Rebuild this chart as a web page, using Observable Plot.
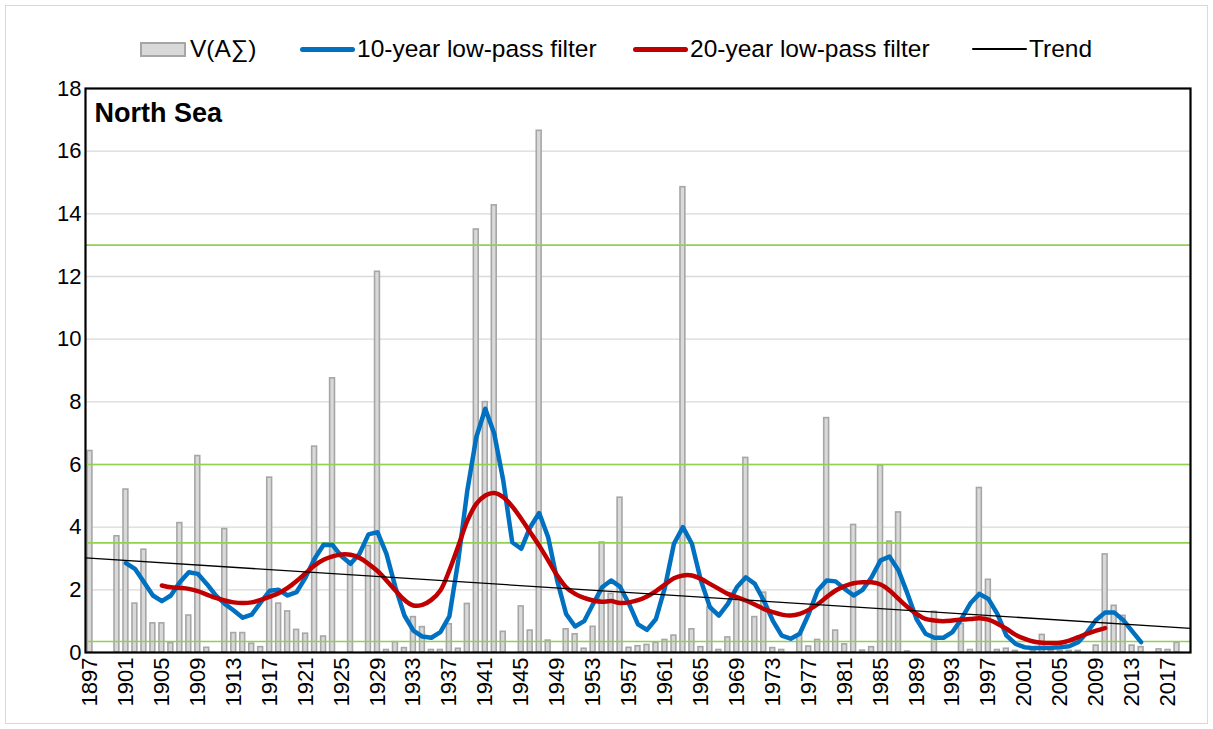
<!DOCTYPE html>
<html>
<head>
<meta charset="utf-8">
<script src="https://cdn.jsdelivr.net/npm/d3@7"></script>
<script src="https://cdn.jsdelivr.net/npm/@observablehq/plot@0.6"></script>
<style>
  html, body { margin: 0; padding: 0; background: #fff; }
  body { font-family: "Liberation Sans", Arial, sans-serif; }
  #wrap { position: relative; width: 1213px; height: 729px; overflow: hidden; }
  #border { position: absolute; left: 5px; top: 5px; width: 1201px; height: 717px; border: 1px solid #d9d9d9; pointer-events: none; }
  #legend { position: relative; height: 70px; font-size: 24.5px; color: #000; }
  .item { position: absolute; top: 35px; height: 28px; display: flex; align-items: center; white-space: nowrap; }
  .sw-box { width: 46px; height: 15px; background: #d9d9d9; border: 2px solid #a6a6a6; margin-right: 4px; box-sizing: border-box; }
  .sw-line { width: 55px; margin-right: 2px; border-radius: 3px; }
</style>
</head>
<body>
<div id="wrap">
  <div id="legend"></div>
  <div id="chart"></div>
  <div id="border"></div>
</div>
<script>
// ---- data ----
const years = [
  1897,1898,1899,1900,1901,1902,1903,1904,1905,1906,1907,1908,1909,1910,1911,1912,1913,1914,1915,1916,
  1917,1918,1919,1920,1921,1922,1923,1924,1925,1926,1927,1928,1929,1930,1931,1932,1933,1934,1935,1936,
  1937,1938,1939,1940,1941,1942,1943,1944,1945,1946,1947,1948,1949,1950,1951,1952,1953,1954,1955,1956,
  1957,1958,1959,1960,1961,1962,1963,1964,1965,1966,1967,1968,1969,1970,1971,1972,1973,1974,1975,1976,
  1977,1978,1979,1980,1981,1982,1983,1984,1985,1986,1987,1988,1989,1990,1991,1992,1993,1994,1995,1996,
  1997,1998,1999,2000,2001,2002,2003,2004,2005,2006,2007,2008,2009,2010,2011,2012,2013,2014,2015,2016,
  2017,2018,2019
];
const vSum = [
  6.43,0,0,3.71,5.2,1.56,3.28,0.93,0.93,0.3,4.13,1.18,6.27,0.15,0,3.94,0.62,0.62,0.28,0.17,
  5.58,1.56,1.31,0.72,0.6,6.57,0.51,8.75,0,2.85,0,3.4,12.15,0.08,0.33,0.14,1.13,0.81,0.08,0.08,
  0.9,0.12,1.55,13.5,7.99,14.27,0.66,0,1.47,0.7,16.65,0.38,0,0.74,0.58,0.12,0.82,3.51,1.87,4.94,
  0.15,0.2,0.24,0.31,0.4,0.54,14.85,0.74,0.17,1.45,0.08,0.48,1.66,6.21,1.13,1.91,0.14,0.08,0,0.58,
  0.19,0.4,7.48,0.7,0.26,4.07,0.06,0.17,5.97,3.54,4.47,0.03,0,0,1.3,0,0,0.91,0.08,5.25,
  2.32,0.08,0.12,0.05,0,0.05,0.56,0.05,0.05,0.05,0.05,0,0.22,3.13,1.49,1.17,0.22,0.17,0,0.1,
  0.08,0.31,0
];

const lp10Years = [
  1901,1902,1903,1904,1905,1906,1907,1908,1909,1910,1911,1912,1913,1914,1915,1916,1917,1918,1919,1920,
  1921,1922,1923,1924,1925,1926,1927,1928,1929,1930,1931,1932,1933,1934,1935,1936,1937,1938,1939,1940,
  1941,1942,1943,1944,1945,1946,1947,1948,1949,1950,1951,1952,1953,1954,1955,1956,1957,1958,1959,1960,
  1961,1962,1963,1964,1965,1966,1967,1968,1969,1970,1971,1972,1973,1974,1975,1976,1977,1978,1979,1980,
  1981,1982,1983,1984,1985,1986,1987,1988,1989,1990,1991,1992,1993,1994,1995,1996,1997,1998,1999,2000,
  2001,2002,2003,2004,2005,2006,2007,2008,2009,2010,2011,2012,2013,2014
];
const lp10Values = [
  2.85,2.67,2.25,1.82,1.64,1.82,2.24,2.56,2.51,2.19,1.82,1.55,1.34,1.11,1.21,1.6,1.97,2.0,1.82,1.93,
  2.4,2.99,3.44,3.43,3.07,2.83,3.15,3.77,3.84,3.15,2.08,1.18,0.7,0.51,0.47,0.65,1.15,2.95,5.17,6.87,
  7.78,6.98,5.49,3.52,3.31,4.0,4.45,3.68,2.3,1.23,0.83,1.0,1.55,2.08,2.3,2.1,1.55,0.9,0.72,1.07,
  2.08,3.47,4.0,3.47,2.3,1.45,1.18,1.55,2.08,2.4,2.19,1.66,1.02,0.54,0.44,0.6,1.23,1.98,2.3,2.27,
  2.03,1.82,2.0,2.4,2.94,3.06,2.62,1.87,1.07,0.6,0.47,0.47,0.65,1.07,1.57,1.87,1.71,1.23,0.55,0.28,
  0.17,0.14,0.14,0.15,0.17,0.2,0.33,0.65,1.04,1.28,1.28,1.04,0.68,0.33
];

const lp20Years = [
  1905,1906,1907,1908,1909,1910,1911,1912,1913,1914,1915,1916,1917,1918,1919,1920,1921,1922,1923,1924,
  1925,1926,1927,1928,1929,1930,1931,1932,1933,1934,1935,1936,1937,1938,1939,1940,1941,1942,1943,1944,
  1945,1946,1947,1948,1949,1950,1951,1952,1953,1954,1955,1956,1957,1958,1959,1960,1961,1962,1963,1964,
  1965,1966,1967,1968,1969,1970,1971,1972,1973,1974,1975,1976,1977,1978,1979,1980,1981,1982,1983,1984,
  1985,1986,1987,1988,1989,1990,1991,1992,1993,1994,1995,1996,1997,1998,1999,2000,2001,2002,2003,2004,
  2005,2006,2007,2008,2009,2010
];
const lp20Values = [
  2.14,2.08,2.06,2.03,1.96,1.85,1.74,1.66,1.6,1.58,1.6,1.68,1.78,1.89,2.06,2.28,2.53,2.78,2.96,3.07,
  3.13,3.12,3.02,2.83,2.6,2.3,1.98,1.68,1.5,1.52,1.68,1.98,2.62,3.4,4.2,4.74,5.01,5.09,4.96,4.66,
  4.27,3.84,3.41,2.94,2.46,2.08,1.87,1.74,1.66,1.62,1.64,1.58,1.6,1.67,1.79,1.96,2.17,2.37,2.46,2.46,
  2.35,2.19,2.03,1.87,1.77,1.66,1.53,1.39,1.29,1.21,1.18,1.23,1.36,1.54,1.77,1.98,2.12,2.21,2.24,2.24,
  2.17,1.98,1.71,1.45,1.23,1.07,1.02,1.0,1.02,1.05,1.07,1.09,1.05,0.92,0.76,0.57,0.44,0.35,0.31,0.3,
  0.31,0.38,0.49,0.6,0.7,0.78
];

const trendYears = [1896.5, 2019.5];
const trendValues = [3.02, 0.77];

const thresholds = [0.35, 3.5, 6, 13];
const yTicks = [0, 2, 4, 6, 8, 10, 12, 14, 16, 18];
const gridValues = [2, 4, 6, 8, 10, 12, 14, 16];
const xTicks = [1897,1901,1905,1909,1913,1917,1921,1925,1929,1933,1937,1941,1945,1949,1953,1957,
  1961,1965,1969,1973,1977,1981,1985,1989,1993,1997,2001,2005,2009,2013,2017];

const legendItems = [
  {label: "V(A\u2211)", kind: "box", left: 140},
  {label: "10-year low-pass filter", kind: "line", color: "#0070c0", width: 5, left: 300},
  {label: "20-year low-pass filter", kind: "line", color: "#c00000", width: 5, left: 633},
  {label: "Trend", kind: "line", color: "#000000", width: 1.5, left: 972}
];

// ---- tables ----
const bars = years.map((year, i) => ({year, v: vSum[i]})).filter(d => d.v > 0);
const lp10 = lp10Years.map((year, i) => ({year, v: lp10Values[i]}));
const lp20 = lp20Years.map((year, i) => ({year, v: lp20Values[i]}));
const trend = trendYears.map((year, i) => ({year, v: trendValues[i]}));

// ---- legend ----
const legend = document.getElementById("legend");
for (const it of legendItems) {
  const el = document.createElement("div");
  el.className = "item";
  el.style.left = it.left + "px";
  const sw = document.createElement("span");
  if (it.kind === "box") {
    sw.className = "sw-box";
  } else {
    sw.className = "sw-line";
    sw.style.height = it.width + "px";
    sw.style.background = it.color;
  }
  el.appendChild(sw);
  const t = document.createElement("span");
  t.textContent = it.label;
  el.appendChild(t);
  legend.appendChild(el);
}

// ---- chart ----
const chart = Plot.plot({
  width: 1213,
  height: 659,
  marginTop: 18,
  marginLeft: 85,
  marginRight: 23,
  marginBottom: 77,
  style: {fontFamily: "'Liberation Sans', Arial, sans-serif", fontSize: "22px", color: "#000", background: "transparent", overflow: "visible"},
  x: {domain: [1896.5, 2019.5], ticks: xTicks, tickFormat: d => String(d), tickRotate: -90, tickSize: 0, tickPadding: 5, label: null},
  y: {domain: [0, 18], ticks: yTicks, tickSize: 0, tickPadding: 4, label: null},
  marks: [
    Plot.ruleY(gridValues, {stroke: "#d9d9d9", strokeWidth: 1.3}),
    Plot.rectY(bars, {x1: d => d.year - 0.27, x2: d => d.year + 0.27, y: "v", fill: "#d9d9d9", stroke: "#a6a6a6", strokeWidth: 1.6}),
    Plot.ruleY(thresholds, {stroke: "#92d050", strokeWidth: 1.6}),
    Plot.line(lp10, {x: "year", y: "v", stroke: "#0070c0", strokeWidth: 4.5, strokeLinejoin: "round", strokeLinecap: "round"}),
    Plot.line(lp20, {x: "year", y: "v", stroke: "#c00000", strokeWidth: 4.5, curve: "catmull-rom", strokeLinecap: "round"}),
    Plot.line(trend, {x: "year", y: "v", stroke: "#000", strokeWidth: 1.3}),
    Plot.frame({stroke: "#000", strokeWidth: 2.2}),
    Plot.text(["North Sea"], {frameAnchor: "top-left", dx: 9, dy: 14, fontWeight: "bold", fontSize: 27, fill: "#000"})
  ]
});
document.getElementById("chart").appendChild(chart);
</script>
</body>
</html>
